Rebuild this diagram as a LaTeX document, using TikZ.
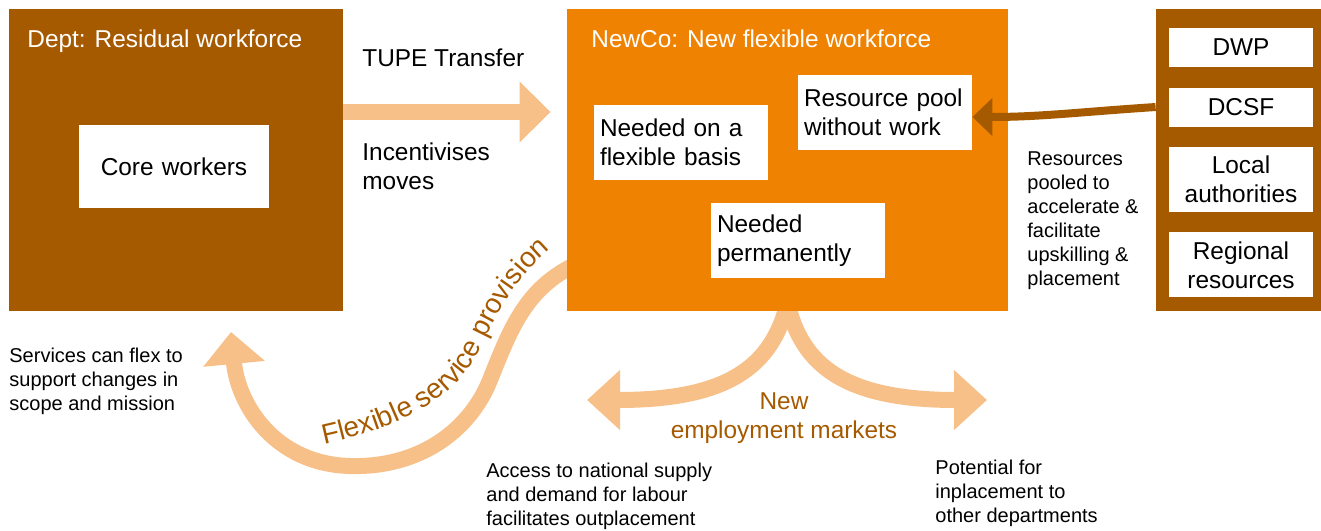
\documentclass[tikz,border=0pt]{standalone}
\usepackage{fontspec}
\setmainfont{Liberation Sans}
\definecolor{DeptBrown}{HTML}{A65A00}
\definecolor{NewCoOrange}{HTML}{EF8200}
\definecolor{FlowPeach}{HTML}{F7C088}
\usetikzlibrary{arrows.meta,positioning,backgrounds,decorations.text}
\newcommand{\bigtxt}{\fontsize{12.2}{14.5}\selectfont}
\newcommand{\smalltxt}{\fontsize{10}{12}\selectfont}

\begin{document}
\begin{tikzpicture}[
    x=0.5pt, y=-0.5pt,
    area/.style={fill=#1, inner sep=0pt, minimum height=151pt},
    card/.style={fill=white, align=left, font=\bigtxt, inner xsep=3pt, inner ysep=0pt, text width=81pt, minimum height=37.5pt},
    org/.style={fill=white, align=center, font=\bigtxt, inner sep=0pt, minimum width=72pt},
    title/.style={font=\bigtxt, text=white, anchor=west, inner sep=0pt},
    note/.style={font=\smalltxt, align=left, anchor=west, inner sep=0pt},
    flow/.style={FlowPeach, line width=8pt, -{Triangle[width=30pt,length=16pt]}},
    feed/.style={DeptBrown, line width=4pt, -{Triangle[width=18.5pt,length=10pt]}}
  ]
    \useasboundingbox (0,0) rectangle (1321,530);

    % the three organisations
    \node[area=DeptBrown, minimum width=167pt] (dept) at (176,160) {};
    \node[area=NewCoOrange, minimum width=220.5pt] (newco) at (787.5,160) {};
    \node[area=DeptBrown, minimum width=82.5pt] (panel) at (1238.5,160) {};

    \node[title] (depttitle) at (27,41) {Dept: Residual workforce};
    \node[title] (newcotitle) at (591,39) {NewCo: New flexible workforce};

    \node[card, align=center, text width=95pt, inner sep=0pt, minimum height=41.5pt] (core) at (174,166.5) {Core workers};
    \node[card] (flex) at (681,142.5) {Needed on a\\flexible basis};
    \node[card] (pool) at (885,112) {Resource pool\\without work};
    \node[card] (perm) at (798,240.5) {Needed\\permanently};

    \node[org, minimum height=19.5pt] (dwp) at (1241,47.5) {DWP};
    \node[org, minimum height=19.5pt, below=10pt of dwp] (dcsf) {DCSF};
    \node[org, minimum height=32.5pt, below=9.5pt of dcsf] (local) {Local\\authorities};
    \node[org, minimum height=32.5pt, below=10pt of local] (regional) {Regional\\resources};

    % free ends of the curved flows
    \coordinate (flexend) at (231,332);
    \coordinate (mkleft) at (587,400);
    \coordinate (mkright) at (987,400);

    \begin{scope}[on background layer]
      \draw[flow, -{Triangle[width=29.5pt,length=15.5pt]}, shorten >=8pt]
        ([yshift=24pt]dept.east) -- ([yshift=24pt]newco.west);
      \draw[flow] ([xshift=3pt,yshift=-53pt]newco.west) .. controls (525,290) and (510,330) .. (490,380)
        .. controls (470,430) and (420,468) .. (350,466)
        .. controls (275,464) and (238,405) .. (flexend);
      \draw[flow, -{Triangle[width=29pt,length=16.5pt]}] ([yshift=4pt]newco.south) .. controls (772,365) and (730,400) .. (mkleft);
      \draw[flow, -{Triangle[width=29pt,length=16.5pt]}] ([yshift=4pt]newco.south) .. controls (802,365) and (844,400) .. (mkright);
    \end{scope}

    \draw[feed] ([yshift=26.5pt]panel.west) .. controls (1080,112) and (1040,117) .. ([yshift=-2.5pt]pool.east);

    \path[decorate, decoration={text along path, text align=left,
        text={|\fontsize{14}{16}\selectfont\color{DeptBrown}|Flexible service provision}}]
      (324,444) .. controls (408,426) and (458,396) .. (482,346)
      .. controls (503,302) and (522,266) .. (575,230);

    % captions
    \node[note, font=\bigtxt] (tupe) at (362,58) {TUPE Transfer};
    \node[note, font=\bigtxt] (moves) at (362,166.5) {Incentivises\\moves};
    \node[note] (pooled) at (1027,221) {Resources\\pooled to\\accelerate \&\\facilitate\\upskilling \&\\placement};
    \node[note] (flexnote) at (9,381) {Services can flex to\\support changes in\\scope and mission};
    \node[note] (access) at (486,496) {Access to national supply\\and demand for labour\\facilitates outplacement};
    \node[note] (inplace) at (935,493) {Potential for\\inplacement to\\other departments};
    \node[font=\bigtxt, text=DeptBrown, align=center, inner sep=0pt] (markets) at (784,418) {New\\employment markets};
  \end{tikzpicture}
\end{document}
